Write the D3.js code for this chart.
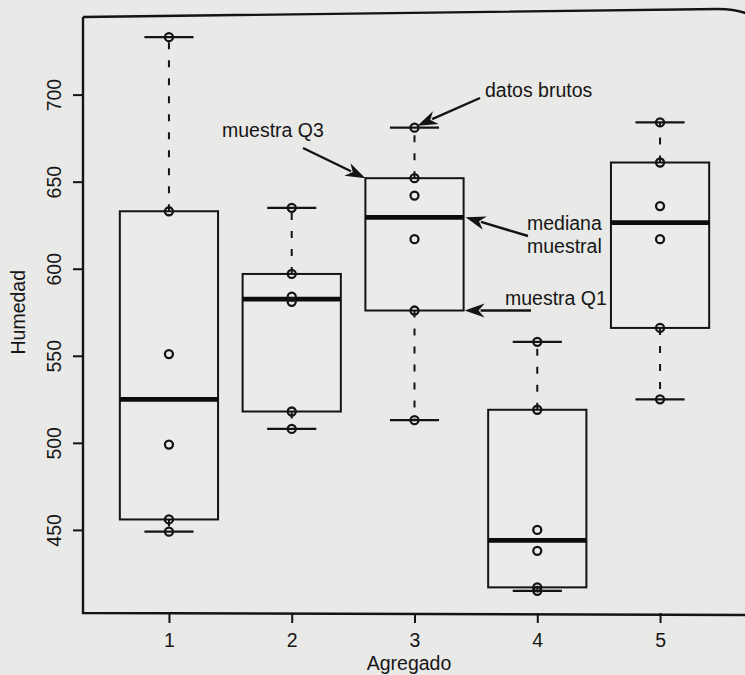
<!DOCTYPE html>
<html>
<head>
<meta charset="utf-8">
<script src="https://cdn.jsdelivr.net/npm/d3@7"></script>
<style>
  html, body { margin: 0; padding: 0; background: #e9e9e7; }
  svg { display: block; }
  text { font-family: "Liberation Sans", Arial, Helvetica, sans-serif; fill: #161616; }
</style>
</head>
<body>
<svg id="chart" width="745" height="675"></svg>
<script>
// Humedad por tipo de agregado (6 observaciones por grupo)
const agregados = ["1", "2", "3", "4", "5"];
const humedad1 = [449, 456, 499, 551, 633, 733];
const humedad2 = [508, 518, 581, 584, 597, 635];
const humedad3 = [513, 576, 617, 642, 652, 681];
const humedad4 = [415, 417, 438, 450, 519, 558];
const humedad5 = [525, 566, 617, 636, 661, 684];
const yTicks = [450, 500, 550, 600, 650, 700];
const grupos = [humedad1, humedad2, humedad3, humedad4, humedad5];

const ink = "#141414";
const fontSize = "19.5px";
const svg = d3.select("#chart");

// Tukey five-number summary (same hinges as R's boxplot)
function fivenum(v) {
  const s = v.slice().sort((a, b) => a - b);
  const n = s.length;
  const n4 = Math.floor((n + 3) / 2) / 2;
  const idx = [1, n4, (n + 1) / 2, n + 1 - n4, n];
  return idx.map(d => 0.5 * (s[Math.floor(d) - 1] + s[Math.ceil(d) - 1]));
}

const all = grupos.flat();
const lo = d3.min(all), hi = d3.max(all);
const pad = 0.04 * (hi - lo);

const x = d3.scaleLinear().domain([0.3, agregados.length + 0.7]).range([83, 746]);
const y = d3.scaleLinear().domain([lo - pad, hi + pad]).range([613, 15]);
const step = x(2) - x(1);
const halfBox = 0.4 * step;
const halfCap = 0.5 * halfBox;

// plot frame (top edge follows the slightly curled page)
svg.append("path")
  .attr("d", "M83,17 L718,9 Q736,9 748,14 M83,17 L83,613 L748,615")
  .attr("fill", "none").attr("stroke", ink).attr("stroke-width", 2.4);

// axes
const yAxis = svg.append("g").attr("transform", "translate(83,0)")
  .call(d3.axisLeft(y).tickValues(yTicks).tickSize(10).tickPadding(0).tickFormat(d3.format("d")));
const xAxis = svg.append("g").attr("transform", "translate(0,613)")
  .call(d3.axisBottom(x).tickValues(d3.range(1, agregados.length + 1)).tickSize(10)
        .tickFormat((d, i) => agregados[i]));
[yAxis, xAxis].forEach(a => {
  a.select(".domain").remove();
  a.selectAll(".tick line").attr("stroke", ink).attr("stroke-width", 2);
  a.selectAll(".tick text").attr("fill", ink).style("font-size", fontSize)
    .style("font-family", '"Liberation Sans", Arial, sans-serif');
});
yAxis.selectAll(".tick text")
  .attr("transform", "rotate(-90)")
  .attr("x", 0).attr("y", -22).attr("dy", 0)
  .attr("text-anchor", "middle");
xAxis.selectAll(".tick text").attr("y", 20).attr("dy", "0.71em");

svg.append("text").attr("x", 409).attr("y", 670).attr("text-anchor", "middle")
  .style("font-size", fontSize).text("Agregado");
svg.append("text").attr("transform", "translate(25," + y(575) + ") rotate(-90)")
  .attr("text-anchor", "middle").style("font-size", fontSize).text("Humedad");

// boxes, whiskers and raw data
const stats = grupos.map(fivenum);
const g = svg.append("g");
stats.forEach((s, i) => {
  const cx = x(i + 1);
  const [mn, q1, med, q3, mx] = s;
  // whiskers
  g.append("line").attr("x1", cx).attr("x2", cx).attr("y1", y(q3)).attr("y2", y(mx))
    .attr("stroke", ink).attr("stroke-width", 2).attr("stroke-dasharray", "7,11");
  g.append("line").attr("x1", cx).attr("x2", cx).attr("y1", y(q1)).attr("y2", y(mn))
    .attr("stroke", ink).attr("stroke-width", 2).attr("stroke-dasharray", "7,11");
  [mn, mx].forEach(v => g.append("line")
    .attr("x1", cx - halfCap).attr("x2", cx + halfCap).attr("y1", y(v)).attr("y2", y(v))
    .attr("stroke", ink).attr("stroke-width", 2.2));
  // box
  g.append("rect").attr("x", cx - halfBox).attr("y", y(q3))
    .attr("width", 2 * halfBox).attr("height", y(q1) - y(q3))
    .attr("fill", "#ebebea").attr("stroke", ink).attr("stroke-width", 2);
  // median
  g.append("line").attr("x1", cx - halfBox).attr("x2", cx + halfBox)
    .attr("y1", y(med)).attr("y2", y(med))
    .attr("stroke", "#0c0c0c").attr("stroke-width", 4.8);
  // observations
  grupos[i].forEach(v => g.append("circle").attr("cx", cx).attr("cy", y(v)).attr("r", 4)
    .attr("fill", "none").attr("stroke", ink).attr("stroke-width", 2.3));
});

// annotations on group 3
const s3 = stats[2];
const c3 = x(3);
function arrow(x0, y0, x1, y1) {
  const ang = Math.atan2(y1 - y0, x1 - x0);
  const L = 20, W = 7;
  const bx = x1 - L * Math.cos(ang), by = y1 - L * Math.sin(ang);
  svg.append("line").attr("x1", x0).attr("y1", y0).attr("x2", bx + 4 * Math.cos(ang)).attr("y2", by + 4 * Math.sin(ang))
    .attr("stroke", ink).attr("stroke-width", 2.4);
  const px = -Math.sin(ang) * W, py = Math.cos(ang) * W;
  svg.append("path")
    .attr("d", `M${x1},${y1} L${bx + px},${by + py} L${bx + 0.3 * L * Math.cos(ang)},${by + 0.3 * L * Math.sin(ang)} L${bx - px},${by - py} Z`)
    .attr("fill", ink);
}
function label(tx, ty, t) {
  svg.append("text").attr("x", tx).attr("y", ty).style("font-size", fontSize).text(t);
}

label(485, 97, "datos brutos");
arrow(480, 98, c3 + 3, y(s3[4]) - 2);

label(222, 137, "muestra Q3");
arrow(303, 148, c3 - halfBox, y(s3[3]));

label(527, 230, "mediana");
label(527, 253, "muestral");
arrow(528, 236, c3 + halfBox + 2, y(s3[2]));

label(505, 305, "muestra Q1");
arrow(531, y(s3[1]), c3 + halfBox + 1, y(s3[1]));
</script>
</body>
</html>
